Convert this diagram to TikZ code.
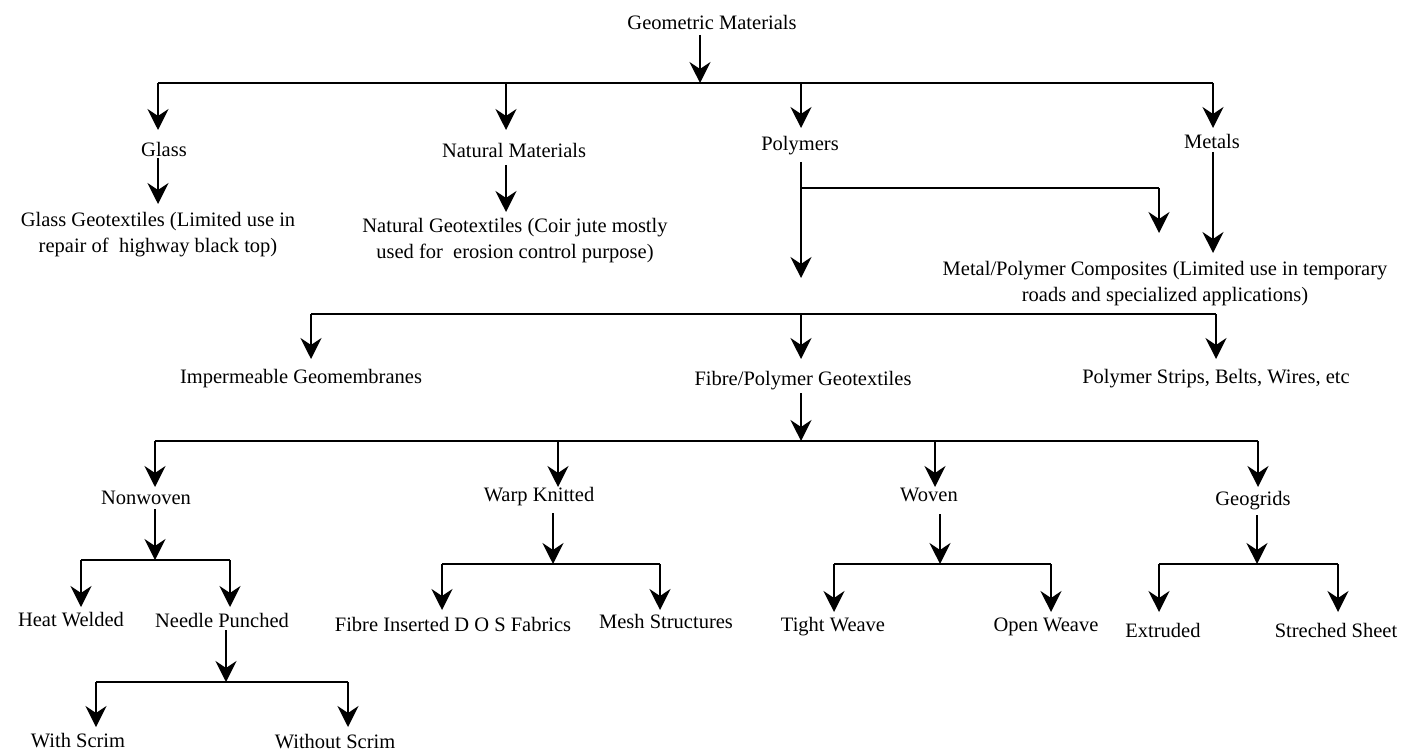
\documentclass[tikz,border=0pt]{standalone}
\usepackage{fontspec}
\setmainfont{Liberation Serif}
\usetikzlibrary{arrows.meta}
\begin{document}
\begin{tikzpicture}[x=1pt,y=-1pt,
  lbl/.style={inner sep=0pt, align=center, font=\fontsize{20.5}{26}\selectfont},
  arr/.style={line width=1.6pt, -{Stealth[length=21pt,width=21pt,inset=7pt]}},
  ln/.style={line width=1.6pt},
  bar/.style={line width=2.6pt}]
\useasboundingbox (0,0) rectangle (1415,751);
\fill[white] (0,0) rectangle (1415,751);

% ---------- nodes ----------
\node[lbl] (gm)   at (712,22)  {Geometric Materials};
\node[lbl] (glass) at (164,149) {Glass};
\node[lbl] (nat)  at (514,150) {Natural Materials};
\node[lbl] (poly) at (800,146) {Polymers};
\node[lbl] (met)  at (1212,141) {Metals};
\node[lbl] (gg)   at (158,235) {Glass Geotextiles (Limited use in\\repair of\ \ highway black top)};
\node[lbl] (ng)   at (515,241) {Natural Geotextiles (Coir jute mostly\\used for\ \ erosion control purpose)};
\node[lbl] (mpc)  at (1165,284) {Metal/Polymer Composites (Limited use in temporary\\roads and specialized applications)};
\node[lbl] (imp)  at (301,379) {Impermeable Geomembranes};
\node[lbl] (fpg)  at (803,381) {Fibre/Polymer Geotextiles};
\node[lbl] (psb)  at (1216,379) {Polymer Strips, Belts, Wires, etc};
\node[lbl] (nw)   at (146,498) {Nonwoven};
\node[lbl] (wk)   at (539,497) {Warp Knitted};
\node[lbl] (wv)   at (929,495) {Woven};
\node[lbl] (geo)  at (1253,501) {Geogrids};
\node[lbl] (hw)   at (71,620)  {Heat Welded};
\node[lbl] (np)   at (222,620) {Needle Punched};
\node[lbl] (ws)   at (78,741)  {With Scrim};
\node[lbl] (wos)  at (335,742) {Without Scrim};
\node[lbl] (fid)  at (453,624) {Fibre Inserted D O S Fabrics};
\node[lbl] (ms)   at (666,621) {Mesh Structures};
\node[lbl] (tw)   at (833,627) {Tight Weave};
\node[lbl] (ow)   at (1046,627) {Open Weave};
\node[lbl] (ex)   at (1163,630) {Extruded};
\node[lbl] (ss)   at (1336,630) {Streched Sheet};

% ---------- level 1 ----------
\coordinate (s0) at (700,35);  \coordinate (j0) at (700,83);
\draw[arr] (s0) -- (j0);
\coordinate (b1a) at (158,83); \coordinate (b1b) at (506,83);
\coordinate (b1c) at (801,83); \coordinate (b1d) at (1213,83);
\draw[bar] (b1a) -- (b1d);
\coordinate (t1a) at (158,130); \coordinate (t1b) at (506,130);
\coordinate (t1c) at (801,128); \coordinate (t1d) at (1213,128);
\draw[arr] (b1a) -- (t1a);
\draw[arr] (b1b) -- (t1b);
\draw[arr] (b1c) -- (t1c);
\draw[arr] (b1d) -- (t1d);

% Glass
\coordinate (sg) at (158,158); \coordinate (tg) at (158,204);
\draw[arr] (sg) -- (tg);
% Natural
\coordinate (sn) at (506,165); \coordinate (tn) at (506,212);
\draw[arr] (sn) -- (tn);
% Polymers
\coordinate (sp) at (801,162); \coordinate (tp) at (801,278);
\coordinate (jp) at (801,188); \coordinate (jpr) at (1159,188); \coordinate (tpr) at (1159,233);
\draw[arr] (sp) -- (tp);
\draw[ln] (jp) -- (jpr);
\draw[arr] (jpr) -- (tpr);
% Metals
\coordinate (sm) at (1213,152); \coordinate (tm) at (1213,253);
\draw[arr] (sm) -- (tm);

% ---------- level 2 ----------
\coordinate (b2a) at (311,314); \coordinate (b2b) at (801,314); \coordinate (b2c) at (1216,314);
\draw[bar] (b2a) -- (b2c);
\coordinate (t2a) at (311,359); \coordinate (t2b) at (801,359); \coordinate (t2c) at (1216,359);
\draw[arr] (b2a) -- (t2a);
\draw[arr] (b2b) -- (t2b);
\draw[arr] (b2c) -- (t2c);

% Fibre/Polymer
\coordinate (sf) at (801,393); \coordinate (jf) at (801,441);
\draw[arr] (sf) -- (jf);

% ---------- level 3 ----------
\coordinate (b3a) at (155,441); \coordinate (b3b) at (558,441);
\coordinate (b3c) at (935,441); \coordinate (b3d) at (1258,441);
\draw[bar] (b3a) -- (b3d);
\coordinate (t3a) at (155,487); \coordinate (t3b) at (558,487);
\coordinate (t3c) at (935,487); \coordinate (t3d) at (1258,487);
\draw[arr] (b3a) -- (t3a);
\draw[arr] (b3b) -- (t3b);
\draw[arr] (b3c) -- (t3c);
\draw[arr] (b3d) -- (t3d);

% Nonwoven
\coordinate (snw) at (155,509); \coordinate (jnw) at (155,560);
\draw[arr] (snw) -- (jnw);
\coordinate (bnwa) at (81,560); \coordinate (bnwb) at (230,560);
\draw[bar] (bnwa) -- (bnwb);
\coordinate (tnwa) at (81,607); \coordinate (tnwb) at (230,607);
\draw[arr] (bnwa) -- (tnwa);
\draw[arr] (bnwb) -- (tnwb);

% Needle Punched
\coordinate (snp) at (226,630); \coordinate (jnp) at (226,682);
\draw[arr] (snp) -- (jnp);
\coordinate (bnpa) at (96,682); \coordinate (bnpb) at (348,682);
\draw[bar] (bnpa) -- (bnpb);
\coordinate (tnpa) at (96,727); \coordinate (tnpb) at (348,727);
\draw[arr] (bnpa) -- (tnpa);
\draw[arr] (bnpb) -- (tnpb);

% Warp Knitted
\coordinate (swk) at (553,513); \coordinate (jwk) at (553,564);
\draw[arr] (swk) -- (jwk);
\coordinate (bwka) at (442,564); \coordinate (bwkb) at (660,564);
\draw[bar] (bwka) -- (bwkb);
\coordinate (twka) at (442,610); \coordinate (twkb) at (660,610);
\draw[arr] (bwka) -- (twka);
\draw[arr] (bwkb) -- (twkb);

% Woven
\coordinate (swv) at (940,514); \coordinate (jwv) at (940,564);
\draw[arr] (swv) -- (jwv);
\coordinate (bwva) at (834,564); \coordinate (bwvb) at (1051,564);
\draw[bar] (bwva) -- (bwvb);
\coordinate (twva) at (834,612); \coordinate (twvb) at (1051,612);
\draw[arr] (bwva) -- (twva);
\draw[arr] (bwvb) -- (twvb);

% Geogrids
\coordinate (sgeo) at (1257,515); \coordinate (jgeo) at (1257,564);
\draw[arr] (sgeo) -- (jgeo);
\coordinate (bgea) at (1159,564); \coordinate (bgeb) at (1338,564);
\draw[bar] (bgea) -- (bgeb);
\coordinate (tgea) at (1159,612); \coordinate (tgeb) at (1338,612);
\draw[arr] (bgea) -- (tgea);
\draw[arr] (bgeb) -- (tgeb);
\end{tikzpicture}
\end{document}
